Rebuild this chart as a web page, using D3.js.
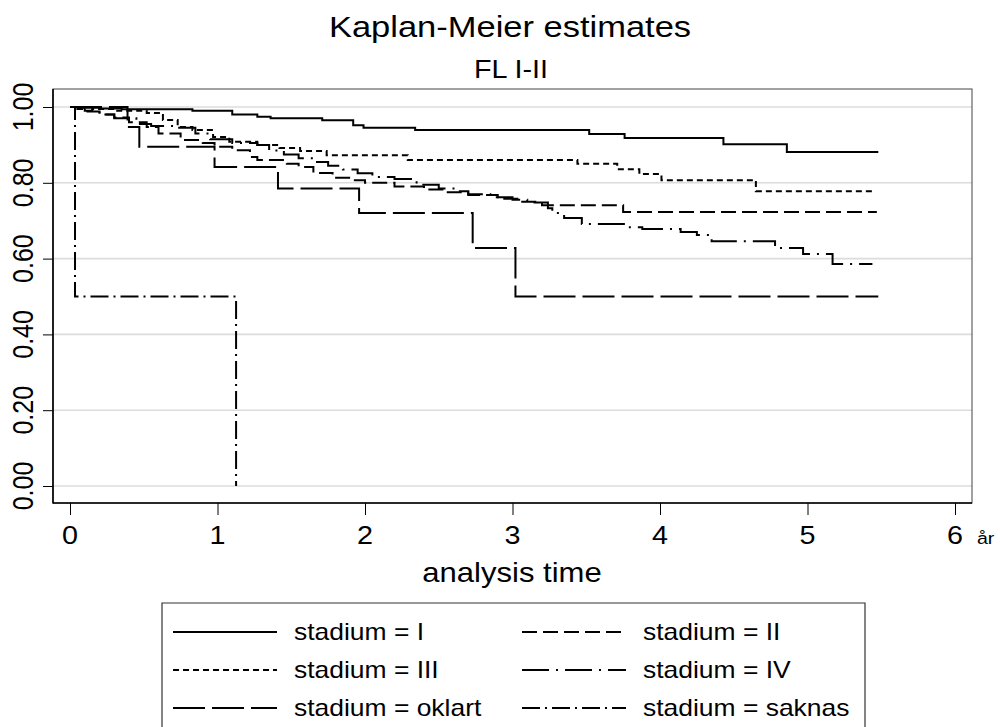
<!DOCTYPE html>
<html><head><meta charset="utf-8">
<script src="https://cdn.jsdelivr.net/npm/d3@7/dist/d3.min.js"></script>
<style>
body{margin:0;background:#fff}
svg{display:block}
text{font-family:"Liberation Sans",Arial,Helvetica,sans-serif;fill:#000}
</style>
</head><body>
<svg id="chart" width="1000" height="727"></svg>
<script>
// ---------- data ----------
const seriesNames = ["stadium = I","stadium = II","stadium = III","stadium = IV","stadium = oklart","stadium = saknas"];

const timeI = [0,0.08,0.2,0.35,0.83,1.10,1.27,1.36,1.71,1.92,1.99,2.34,3.52,3.76,4.43,4.86,5.48];
const survI = [1,0.998,0.996,0.994,0.990,0.980,0.974,0.970,0.965,0.952,0.945,0.939,0.929,0.918,0.902,0.881,0.881];

const timeII = [0,0.05,0.1,0.2,0.3,0.4,0.52,0.6,0.75,0.9,0.98,1.1,1.22,1.27,1.47,1.55,1.65,1.78,1.9,2.0,2.2,2.4,2.55,2.7,2.9,3.05,3.2,3.75,5.47];
const survII = [1,0.995,0.988,0.98,0.972,0.96,0.947,0.93,0.913,0.905,0.895,0.886,0.868,0.86,0.85,0.842,0.826,0.813,0.807,0.80,0.79,0.782,0.775,0.768,0.758,0.75,0.741,0.723,0.723];

const timeIII = [0,0.15,0.3,0.52,0.63,0.73,0.83,0.97,1.08,1.27,1.42,1.56,1.74,2.29,3.44,3.71,3.86,4.01,4.65,5.46];
const survIII = [1,0.995,0.99,0.984,0.966,0.947,0.939,0.921,0.908,0.900,0.892,0.884,0.873,0.860,0.850,0.836,0.823,0.807,0.778,0.778];

const timeIV = [0,0.1,0.2,0.3,0.45,0.55,0.7,0.85,0.95,1.1,1.27,1.35,1.45,1.55,1.65,1.75,1.85,1.95,2.05,2.2,2.35,2.5,2.6,2.7,2.85,3.0,3.1,3.24,3.27,3.35,3.47,3.78,3.88,4.14,4.25,4.35,4.78,4.97,5.17,5.44];
const survIV = [1,0.99,0.98,0.97,0.955,0.95,0.945,0.93,0.915,0.905,0.90,0.885,0.875,0.865,0.855,0.845,0.835,0.825,0.815,0.81,0.795,0.785,0.778,0.77,0.762,0.755,0.748,0.733,0.72,0.707,0.691,0.683,0.678,0.670,0.662,0.646,0.628,0.612,0.586,0.586];

const timeOklart = [0,0.39,0.47,0.98,1.41,1.96,2.73,3.02,5.48];
const survOklart = [1,0.947,0.895,0.842,0.785,0.720,0.628,0.500,0.500];

const timeSaknas = [0,0.034,1.126];
const survSaknas = [1,0.50,0.0];

const xTicks = [0,1,2,3,4,5,6];
const yTicks = [0,0.2,0.4,0.6,0.8,1];
const yTickLabels = ["0.00","0.20","0.40","0.60","0.80","1.00"];
const titleText = "Kaplan-Meier estimates";
const subtitleText = "FL I-II";
const xTitleText = "analysis time";
const xUnitText = "år";

// ---------- styles ----------
const dashes = [null, "15,6", "6,4", "27,7,2,7", "32,7", "18,5,2,5"];
const SX = 1.15; // horizontal text stretch of the original export

const svg = d3.select("#chart");
const x = d3.scaleLinear().domain([0,6]).range([70,955]);
const y = d3.scaleLinear().domain([0,1]).range([486,107]);
const frame = {l:53, t:89, r:972, b:503};

function stext(g, str, px, py, size, anchor){
  return g.append("text")
    .attr("transform", `translate(${px},${py}) scale(${SX},1)`)
    .attr("text-anchor", anchor || "middle")
    .style("font-size", size+"px")
    .text(str);
}

// titles
stext(svg, titleText, 510, 37, 30);
stext(svg, subtitleText, 511, 78, 25);

// gridlines
svg.append("g").selectAll("line").data(yTicks).join("line")
  .attr("x1", frame.l).attr("x2", frame.r)
  .attr("y1", d=>y(d)).attr("y2", d=>y(d))
  .attr("stroke", "#dcdcdc").attr("stroke-width", 1.6);

// frame
svg.append("rect").attr("x", frame.l).attr("y", frame.t)
  .attr("width", frame.r-frame.l).attr("height", frame.b-frame.t)
  .attr("fill", "none").attr("stroke", "#444").attr("stroke-width", 1);
svg.append("line").attr("x1", frame.l).attr("x2", frame.l).attr("y1", frame.t).attr("y2", frame.b+0.5)
  .attr("stroke", "#000").attr("stroke-width", 1.6);
svg.append("line").attr("x1", frame.l).attr("x2", frame.r).attr("y1", frame.b).attr("y2", frame.b)
  .attr("stroke", "#000").attr("stroke-width", 1.6);

// y axis ticks + labels
const yAxis = d3.axisLeft(y).tickValues(yTicks).tickSize(10).tickFormat((d,i)=>yTickLabels[i]);
const gy = svg.append("g").attr("transform", `translate(${frame.l},0)`).call(yAxis);
gy.select(".domain").remove();
gy.selectAll(".tick line").attr("stroke", "#000").attr("stroke-width", 1);
gy.selectAll(".tick text").remove();
svg.append("g").selectAll("text").data(yTicks).join("text")
  .attr("transform", (d)=>`translate(33,${y(d)}) scale(${SX},1) rotate(-90)`)
  .attr("text-anchor", "middle")
  .style("font-size", "25px")
  .text((d,i)=>yTickLabels[i]);

// x axis ticks + labels
const xAxis = d3.axisBottom(x).tickValues(xTicks).tickSize(12).tickFormat(d3.format("d"));
const gx = svg.append("g").attr("transform", `translate(0,${frame.b})`).call(xAxis);
gx.select(".domain").remove();
gx.selectAll(".tick line").attr("stroke", "#000").attr("stroke-width", 1);
gx.selectAll(".tick text").remove();
svg.append("g").selectAll("text").data(xTicks).join("text")
  .attr("transform", d=>`translate(${x(d)},544) scale(${SX},1)`)
  .attr("text-anchor", "middle")
  .style("font-size", "25px")
  .text(d=>d3.format("d")(d));
stext(svg, xUnitText, 977, 544, 17, "start");
stext(svg, xTitleText, 512, 582, 27);

// curves
const allSeries = [
  {t: timeI, s: survI},
  {t: timeII, s: survII},
  {t: timeIII, s: survIII},
  {t: timeIV, s: survIV},
  {t: timeOklart, s: survOklart},
  {t: timeSaknas, s: survSaknas}
];
const line = d3.line().x(d=>x(d[0])).y(d=>y(d[1])).curve(d3.curveStepAfter);
const gc = svg.append("g");
allSeries.forEach((ser,i)=>{
  const pts = ser.t.map((t,j)=>[t, ser.s[j]]);
  gc.append("path").attr("d", line(pts))
    .attr("fill","none").attr("stroke","#000").attr("stroke-width",2)
    .attr("stroke-dasharray", dashes[i]);
});

// legend
const leg = {l:162, r:865, t:603};
svg.append("path")
  .attr("d", `M${leg.l},730 V${leg.t} H${leg.r} V730`)
  .attr("fill","none").attr("stroke","#333").attr("stroke-width",1.2);
const rowY = [632, 670, 708];
const colX = [173, 522];
seriesNames.forEach((name,i)=>{
  const col = i%2, row = Math.floor(i/2);
  const x0 = colX[col], yy = rowY[row];
  svg.append("line").attr("x1", x0).attr("x2", x0+104).attr("y1", yy).attr("y2", yy)
    .attr("stroke","#000").attr("stroke-width",2).attr("stroke-dasharray", dashes[i]);
  stext(svg, name, x0+121, yy+8, 23, "start");
});
</script>
</body></html>
